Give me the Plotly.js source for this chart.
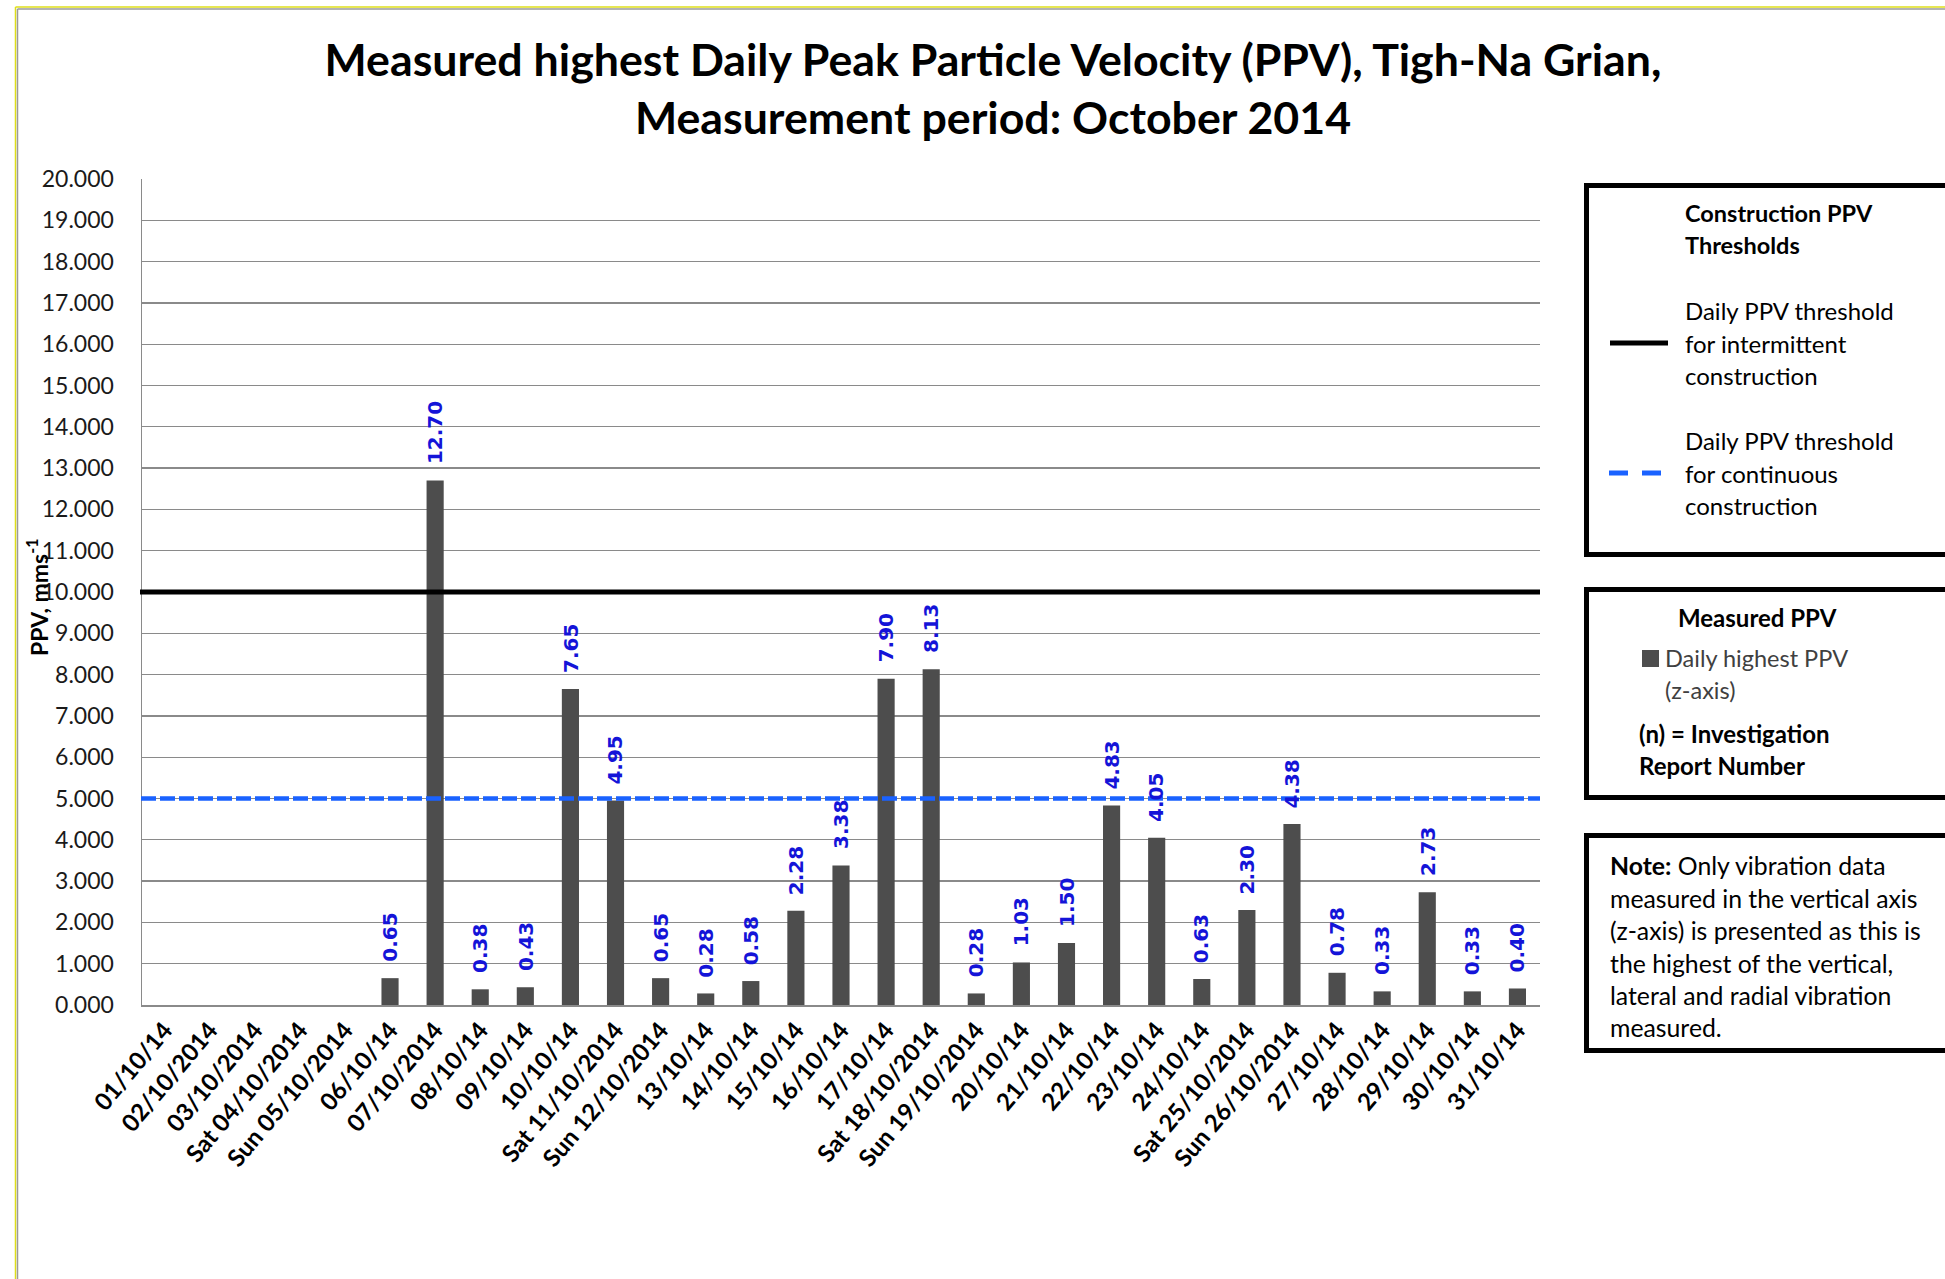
<!DOCTYPE html>
<html>
<head>
<meta charset="utf-8">
<script src="https://cdn.plot.ly/plotly-3.0.1.min.js"></script>
<style>html,body{margin:0;padding:0;background:#fff;}#chart{width:1945px;height:1279px;}</style>
</head>
<body>
<div id="chart"></div>
<script>
// ---- data ----
const dates = ['01/10/14','02/10/2014','03/10/2014','Sat 04/10/2014','Sun 05/10/2014','06/10/14','07/10/2014','08/10/14','09/10/14','10/10/14','Sat 11/10/2014','Sun 12/10/2014','13/10/14','14/10/14','15/10/14','16/10/14','17/10/14','Sat 18/10/2014','Sun 19/10/2014','20/10/14','21/10/14','22/10/14','23/10/14','24/10/14','Sat 25/10/2014','Sun 26/10/2014','27/10/14','28/10/14','29/10/14','30/10/14','31/10/14'];
const ppv = [null,null,null,null,null,0.65,12.70,0.38,0.43,7.65,4.95,0.65,0.28,0.58,2.28,3.38,7.90,8.13,0.28,1.03,1.50,4.83,4.05,0.63,2.30,4.38,0.78,0.33,2.73,0.33,0.40];
const intermittentThreshold = [10];
const continuousThreshold = [5];
const yTicks = [0,1,2,3,4,5,6,7,8,9,10,11,12,13,14,15,16,17,18,19,20];

// ---- layout helpers (pixel -> paper) ----
const W = 1945, H = 1279, ML = 142, MR = 1945 - 1540, MT = 179, MB = 1279 - 1005;
const PW = W - ML - MR, PH = H - MT - MB;
const px = v => (v - ML) / PW;
const py = v => (H - MB - v) / PH;
const FONT = 'Lato, "Open Sans", sans-serif';

const bar = {
  type: 'bar', x: dates, y: ppv, name: 'Daily highest PPV (z-axis)',
  marker: {color: '#4d4d4d'}, showlegend: false, hoverinfo: 'x+y'
};

const shapes = [];
const annotations = [];

// threshold lines
shapes.push({type:'line', xref:'paper', yref:'y', x0:px(140), x1:1, y0:intermittentThreshold[0], y1:intermittentThreshold[0], line:{color:'#000', width:5}, layer:'above'});
shapes.push({type:'line', xref:'paper', yref:'y', x0:px(141), x1:1, y0:continuousThreshold[0], y1:continuousThreshold[0], line:{color:'#1a62ff', width:4.5, dash:'15px,4px'}, layer:'above'});

// outer frame
shapes.push({type:'line', xref:'paper', yref:'paper', x0:px(15.5), x1:px(15.5), y0:py(7), y1:py(1290), line:{color:'#dede1a', width:1.5}});
shapes.push({type:'line', xref:'paper', yref:'paper', x0:px(15.5), x1:px(1960), y0:py(7), y1:py(7), line:{color:'#dede1a', width:1.5}});
shapes.push({type:'line', xref:'paper', yref:'paper', x0:px(17.5), x1:px(17.5), y0:py(9), y1:py(1290), line:{color:'#9a9a9a', width:1.5}});
shapes.push({type:'line', xref:'paper', yref:'paper', x0:px(17.5), x1:px(1960), y0:py(9), y1:py(9), line:{color:'#9a9a9a', width:1.5}});

// legend boxes
[[185.5,554.5],[589.5,797.5],[835.5,1050.5]].forEach(b => {
  shapes.push({type:'rect', xref:'paper', yref:'paper', x0:px(1586.5), x1:px(1965), y0:py(b[0]), y1:py(b[1]), line:{color:'#000', width:5}, fillcolor:'rgba(0,0,0,0)'});
});
// legend samples
shapes.push({type:'line', xref:'paper', yref:'paper', x0:px(1610), x1:px(1668), y0:py(343), y1:py(343), line:{color:'#000', width:5}});
shapes.push({type:'line', xref:'paper', yref:'paper', x0:px(1609), x1:px(1662), y0:py(473), y1:py(473), line:{color:'#1a62ff', width:5, dash:'19px,14px'}});
shapes.push({type:'rect', xref:'paper', yref:'paper', x0:px(1642), x1:px(1659), y0:py(650), y1:py(667), line:{width:0}, fillcolor:'#4d4d4d'});

function txt(x, y, text, opts) {
  opts = opts || {};
  annotations.push({xref:'paper', yref:'paper', x:px(x), y:py(y), text:text, showarrow:false,
    xanchor:'left', yanchor:'middle', align:'left',
    font:{family:FONT, size:opts.size || 24, color:opts.color || '#000'}});
}
txt(1683, 213, '<b>Construction PPV</b>', {size:23.5});
txt(1683, 245, '<b>Thresholds</b>', {size:23.5});
txt(1683, 310, 'Daily PPV threshold');
txt(1683, 343, 'for intermittent');
txt(1683, 375, 'construction');
txt(1683, 440, 'Daily PPV threshold');
txt(1683, 473, 'for continuous');
txt(1683, 505, 'construction');
txt(1676, 617, '<b>Measured PPV</b>');
txt(1663, 658, 'Daily highest PPV', {color:'#404040', size:23.5});
txt(1663, 690, '(z-axis)', {color:'#404040', size:23.5});
txt(1637, 733, '<b>(n) = Investigation</b>');
txt(1637, 765, '<b>Report Number</b>');
txt(1608, 865, '<b>Note:</b> Only vibration data', {size:24.8});
txt(1608, 898, 'measured in the vertical axis', {size:24.8});
txt(1608, 930, '(z-axis) is presented as this is', {size:24.8});
txt(1608, 963, 'the highest of the vertical,', {size:24.8});
txt(1608, 995, 'lateral and radial vibration', {size:24.8});
txt(1608, 1027, 'measured.', {size:24.8});

// y axis title
annotations.push({xref:'paper', yref:'paper', x:px(37), y:py(597), text:'<b>PPV, mms<sup>-1</sup></b>', showarrow:false,
  textangle:-90, xanchor:'center', yanchor:'middle', font:{family:FONT, size:23, color:'#000'}});

// data labels
dates.forEach((d, i) => {
  if (ppv[i] === null) return;
  annotations.push({x:d, y:ppv[i], xref:'x', yref:'y', text:'<b>' + ppv[i].toFixed(2) + '</b>', showarrow:false,
    textangle:-90, xanchor:'center', yanchor:'bottom', yshift:14,
    font:{family:'"DejaVu Sans", sans-serif', size:20, color:'#1414d8'}});
});

const layout = {
  width: W, height: H,
  margin: {l:ML, r:MR, t:MT, b:MB, pad:0},
  paper_bgcolor:'#fff', plot_bgcolor:'#fff',
  title: {text:'<b>Measured highest Daily Peak Particle Velocity (PPV), Tigh-Na Grian,<br>Measurement period: October 2014</b>',
    font:{family:FONT, size:44.7, color:'#000'}, x:993/W, xanchor:'center', y:1 - 76/H, yanchor:'middle', xref:'container', yref:'container'},
  bargap: 0.62,
  xaxis: {type:'category', tickangle:-50, tickfont:{family:FONT, size:24, color:'#000', weight:'bold'},
    showline:true, linecolor:'#8a8a8a', linewidth:1.5, ticks:'', showgrid:false, range:[-0.5, 30.5]},
  yaxis: {range:[0,20], tickvals:yTicks, tickformat:'.3f', tickfont:{family:FONT, size:23, color:'#1a1a1a'},
    showline:true, linecolor:'#8a8a8a', linewidth:1.5, gridcolor:'#8a8a8a', gridwidth:1.3, ticks:'', ticklabelstandoff:22, zeroline:false},
  shapes: shapes, annotations: annotations, showlegend:false
};

Plotly.newPlot('chart', [bar], layout, {displayModeBar:false, staticPlot:true});
</script>
</body>
</html>
